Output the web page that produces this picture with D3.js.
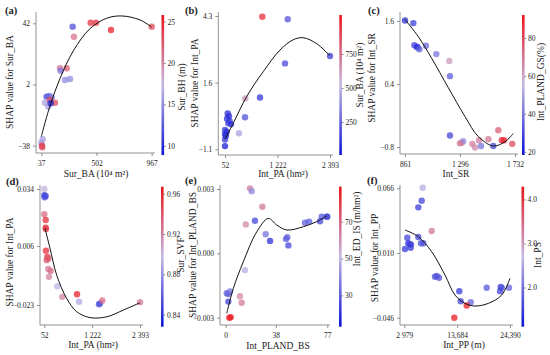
<!DOCTYPE html>
<html>
<head>
<meta charset="utf-8">
<script src="https://cdn.jsdelivr.net/npm/d3@7"></script>
<style>
  body { margin: 0; background: #fff; }
  svg text { font-family: "Liberation Serif", "Times New Roman", serif; fill: #222; }
</style>
</head>
<body>
<svg width="550" height="355"></svg>
<script>
// DATA
// (a) Sur_BA vs SHAP, colour = Sur_BH
const aX = [301, 312, 453, 498, 624, 967, 195, 251, 200, 237, 279, 82, 104, 125, 68, 96, 110, 152, 116, 49, 37, 43, 45];
const aY = [39.8, 33.2, 42.4, 42.4, 37.6, 39.8, 12.6, 12.6, 11, 4.9, 5.6, -5.9, -5.5, -6.4, -9.9, -12.4, -8.1, -9.9, -10.3, -33.8, -36, -38, -39];
const aC = [12, 21, 24, 24, 25, 23, 21, 22, 14, 15, 15, 11, 13, 14, 16, 16, 23, 23, 9.5, 16, 16, 24, 23];
const aTrendX = [37, 110, 195, 307, 447, 588, 714, 869, 967];
const aTrendY = [-32, -12, 6, 24, 38.5, 45.3, 46.8, 44.2, 39.4];

// (b) Int_PA, colour = Sur_BA
const bX = [884, 1450, 1390, 2393, 832, 505, 498, 364, 112, 141, 97, 157, 126, 186, 52, 90, 52, 74, 52, 52];
const bY = [4.27, 4.17, 2.38, 2.68, 1.0, 0.96, 0.2, -0.45, 0.35, 0.24, 0.14, 0.04, -0.04, -0.09, -0.32, -0.39, -0.49, -0.55, -0.70, -0.97];
const bC = [950, 200, 180, 150, 120, 620, 200, 450, 80, 100, 90, 110, 130, 100, 120, 90, 100, 80, 110, 40];
const bTrendX = [52, 237, 536, 906, 1278, 1575, 1798, 2097, 2393];
const bTrendY = [-0.7, -0.04, 1.04, 2.05, 2.92, 3.34, 3.42, 3.18, 2.68];

// (c) Int_SR, colour = Int_PLAND_GS
const cX = [861, 927, 935, 953, 961, 974, 1027, 1109, 1212, 1217, 1217, 1310, 1322, 1296, 1394, 1415, 1447, 1463, 1521, 1560, 1600, 1627, 1645, 1710];
const cY = [1.61, 1.56, 1.14, 1.11, 1.10, 1.06, 1.13, 0.97, 0.84, 0.55, -0.58, -0.72, -0.69, -0.73, -0.74, -0.81, -0.67, -0.78, -0.65, -0.78, -0.48, -0.67, -0.67, -0.74];
const cC = [25, 28, 30, 28, 26, 35, 38, 40, 62, 35, 30, 68, 45, 70, 68, 66, 68, 40, 70, 30, 75, 85, 88, 80];
const cTrendX = [861, 967, 1072, 1204, 1336, 1441, 1560, 1653, 1719];
const cTrendY = [1.63, 1.30, 0.89, 0.33, -0.22, -0.60, -0.78, -0.70, -0.54];

// (d) Int_PA, colour = Sur_SVF
const dX = [52, 52, 86, 60, 52, 86, 86, 92, 92, 125, 150, 110, 150, 208, 167, 370, 492, 852, 901, 1390, 1415, 1471, 2393];
const dY = [0.034, 0.031, 0.0306, 0.0299, 0.0216, 0.0188, 0.015, 0.0143, 0.0037, 0.0007, -0.0001, -0.0009, -0.0053, -0.0063, -0.0091, -0.0138, -0.019, -0.0177, -0.0214, -0.0226, -0.0222, -0.0208, -0.0216];
const dC = [0.90, 0.845, 0.85, 0.85, 0.93, 0.955, 0.96, 0.95, 0.955, 0.95, 0.935, 0.94, 0.925, 0.93, 0.92, 0.895, 0.92, 0.96, 0.89, 0.85, 0.855, 0.93, 0.925];
const dTrendX = [69, 191, 355, 600, 845, 1170, 1578, 1985, 2393];
const dTrendY = [0.0147, 0.0049, -0.0083, -0.0198, -0.0263, -0.0292, -0.0288, -0.0255, -0.0219];

// (e) Int_PLAND_BS, colour = Int_ED_IS
const eX = [18.4, 19.7, 27.8, 22.2, 15.2, 30.3, 33.6, 14.6, 45.7, 46.7, 47.5, 60.1, 63.2, 71.5, 72.8, 76.6, 77, 0.8, 2, 3.3, 2, 10.8, 12.1, 2.7, 3.8];
const eY = [0.00303, 0.0029, 0.00217, 0.00152, 0.00135, 0.00089, 0.00058, -0.00078, 0.00067, 0.00075, 0.00037, 0.00143, 0.00148, 0.0015, 0.00171, 0.00171, 0.00171, -0.00186, -0.0019, -0.00178, -0.00225, -0.002, -0.0023, -0.003, -0.00298];
const eC = [65, 40, 65, 25, 62, 35, 20, 48, 30, 30, 25, 30, 30, 25, 28, 25, 25, 30, 30, 35, 25, 62, 65, 85, 88];
const eTrendX = [0.8, 5.8, 13.3, 23.5, 32.3, 38.7, 46.2, 58.8, 69, 76.6];
const eTrendY = [-0.0028, -0.00163, -0.0004, 0.001, 0.00163, 0.00132, 0.00109, 0.00124, 0.00148, 0.00174];

// (f) Int_PP, colour = Int_PS
const fX = [6706, 6503, 5815, 8529, 3587, 5815, 3789, 4133, 4336, 4275, 3121, 6360, 6827, 9197, 9541, 10008, 14119, 14403, 16429, 15618, 13106, 19669, 22505, 22707, 22370, 24193];
const fY = [0.0665, 0.0553, 0.0495, 0.029, 0.0232, 0.0238, 0.0184, 0.0175, 0.0175, 0.0146, 0.0135, 0.0184, 0.0184, -0.0105, -0.0099, -0.0114, -0.023, -0.0317, -0.0326, -0.0355, -0.046, -0.0201, -0.0193, -0.0201, -0.023, -0.0201];
const fC = [2.6, 1.6, 1.5, 3.3, 1.6, 1.6, 1.4, 1.5, 1.6, 1.5, 1.5, 1.7, 1.7, 1.7, 1.7, 1.7, 1.5, 1.6, 1.9, 4.2, 4.2, 1.8, 1.6, 1.7, 1.6, 1.9];
const fTrendX = [3121, 5815, 8529, 11222, 13248, 15274, 17299, 19999, 22707, 24390];
const fTrendY = [0.0299, 0.0241, 0.0111, -0.0091, -0.0264, -0.0336, -0.0359, -0.0336, -0.0264, -0.012];

// ticks
const aXTicks = [37, 502, 967], aXLabels = ["37", "502", "967"];
const aYTicks = [-38, 2, 42], aYLabels = ["\u221238", "2", "42"];
const aCTicks = [10, 15, 20, 25];
const bXTicks = [52, 1222, 2393], bXLabels = ["52", "1 222", "2 393"];
const bYTicks = [-1.1, 1.6, 4.3], bYLabels = ["\u22121.1", "1.6", "4.3"];
const bCTicks = [250, 500, 750];
const cXTicks = [861, 1296, 1732], cXLabels = ["861", "1 296", "1 732"];
const cYTicks = [-0.8, 0.4, 1.6], cYLabels = ["\u22120.8", "0.4", "1.6"];
const cCTicks = [20, 40, 60, 80];
const dXTicks = [52, 1222, 2393], dXLabels = ["52", "1 222", "2 393"];
const dYTicks = [-0.023, 0.006, 0.034], dYLabels = ["\u22120.023", "0.006", "0.034"];
const dCTicks = [0.84, 0.88, 0.92, 0.96];
const eXTicks = [0, 38, 77], eXLabels = ["0", "38", "77"];
const eYTicks = [-0.003, 0, 0.003], eYLabels = ["\u22120.003", "0.000", "0.003"];
const eCTicks = [30, 50, 70];
const fXTicks = [2979, 13684, 24390], fXLabels = ["2 979", "13,684", "24,390"];
const fYTicks = [-0.046, 0.010, 0.066], fYLabels = ["\u22120.046", "0.010", "0.066"];
const fCTicks = [2, 3, 4];

const panels = [
  { tag: "(a)", x: aX, y: aY, c: aC, tx: aTrendX, ty: aTrendY,
    xd: [37, 967], yd: [-38, 42], cd: [8.9, 25.8],
    xt: aXTicks, xl: aXLabels, yt: aYTicks, yl: aYLabels, ct: aCTicks,
    xTitle: "Sur_BA (10\u2074 m\u00b2)", yTitle: "SHAP value for Sur_BA", cTitle: "Sur_BH (m)",
    box: { l: 36, r: 155, t: 12, b: 153 }, xr: [41.3, 151.7], yr: [145.7, 23.3],
    tagPos: [5, 14], xTitlePos: [96, 177], yTitlePos: [10, 82], cbX: 161.5, cbY: [15, 155], cTitlePos: [182, 87] },
  { tag: "(b)", x: bX, y: bY, c: bC, tx: bTrendX, ty: bTrendY,
    xd: [52, 2393], yd: [-1.1, 4.3], cd: [7, 1037],
    xt: bXTicks, xl: bXLabels, yt: bYTicks, yl: bYLabels, ct: bCTicks,
    xTitle: "Int_PA (hm\u00b2)", yTitle: "SHAP value for Int_PA", cTitle: "Sur_BA (10\u2074 m\u00b2)",
    box: { l: 218.3, r: 333, t: 12, b: 155 }, xr: [225, 330], yr: [149.3, 16],
    tagPos: [185, 14], xTitlePos: [283, 177], yTitlePos: [195, 83], cbX: 339.3, cbY: [15, 155], cTitlePos: [360, 75] },
  { tag: "(c)", x: cX, y: cY, c: cC, tx: cTrendX, ty: cTrendY,
    xd: [861, 1732], yd: [-0.8, 1.6], cd: [18.3, 92.1],
    xt: cXTicks, xl: cXLabels, yt: cYTicks, yl: cYLabels, ct: cCTicks,
    xTitle: "Int_SR", yTitle: "SHAP value for Int_SR", cTitle: "Int_PLAND_GS(%)",
    box: { l: 400, r: 518, t: 12, b: 154 }, xr: [405, 515], yr: [147, 21],
    tagPos: [368, 14], xTitlePos: [456, 177], yTitlePos: [372, 78], cbX: 522, cbY: [15, 155], cTitlePos: [541, 82] },
  { tag: "(d)", x: dX, y: dY, c: dC, tx: dTrendX, ty: dTrendY,
    xd: [52, 2393], yd: [-0.023, 0.034], cd: [0.828, 0.967],
    xt: dXTicks, xl: dXLabels, yt: dYTicks, yl: dYLabels, ct: dCTicks,
    xTitle: "Int_PA (hm\u00b2)", yTitle: "SHAP value for Int_PA", cTitle: "Sur_SVF",
    box: { l: 40, r: 143, t: 185, b: 325 }, xr: [44.3, 140], yr: [305, 189],
    tagPos: [6, 185], xTitlePos: [93, 348], yTitlePos: [10, 262], cbX: 161, cbY: [186.7, 326.7], cTitlePos: [181, 255] },
  { tag: "(e)", x: eX, y: eY, c: eC, tx: eTrendX, ty: eTrendY,
    xd: [0, 77], yd: [-0.003, 0.003], cd: [13, 89],
    xt: eXTicks, xl: eXLabels, yt: eYTicks, yl: eYLabels, ct: eCTicks,
    xTitle: "Int_PLAND_BS", yTitle: "SHAP value for Int_PLAND_BS", cTitle: "Int_ED_IS (m/hm\u00b2)",
    box: { l: 220, r: 330, t: 185, b: 325 }, xr: [225.7, 327.3], yr: [317.7, 189],
    tagPos: [185, 184], xTitlePos: [278, 349], yTitlePos: [193, 255], cbX: 339, cbY: [186.7, 326.7], cTitlePos: [357, 229] },
  { tag: "(f)", x: fX, y: fY, c: fC, tx: fTrendX, ty: fTrendY,
    xd: [2979, 24390], yd: [-0.046, 0.066], cd: [1.11, 4.29],
    xt: fXTicks, xl: fXLabels, yt: fYTicks, yl: fYLabels, ct: fCTicks,
    xTitle: "Int_PP (m)", yTitle: "SHAP value for Int_PP", cTitle: "Int_PS",
    box: { l: 400, r: 513, t: 185, b: 325 }, xr: [404.3, 510], yr: [317.7, 188.3],
    tagPos: [367, 184], xTitlePos: [464, 348], yTitlePos: [375, 258], cbX: 521.5, cbY: [186.7, 326.7], cTitlePos: [538, 255] }
];

const svg = d3.select("svg");
const colors = ["#0c12d6", "#c3b9e3", "#ec1219"];
const defs = svg.append("defs");

// vertical gradient shared by all colour bars (bottom = low)
const grad = defs.append("linearGradient").attr("id", "cbar")
  .attr("x1", 0).attr("y1", 1).attr("x2", 0).attr("y2", 0);
d3.range(0, 1.0001, 0.1).forEach(t => {
  const s = d3.scaleLinear().domain([0, 0.5, 1]).range(colors);
  grad.append("stop").attr("offset", t).attr("stop-color", s(t));
});

panels.forEach(p => {
  const g = svg.append("g");
  const x = d3.scaleLinear().domain(p.xd).range(p.xr);
  const y = d3.scaleLinear().domain(p.yd).range(p.yr);
  const mid = (p.cd[0] + p.cd[1]) / 2;
  const color = d3.scaleLinear().domain([p.cd[0], mid, p.cd[1]]).range(colors).clamp(true);

  // axes lines
  g.append("line").attr("x1", p.box.l).attr("x2", p.box.l).attr("y1", p.box.t).attr("y2", p.box.b)
    .attr("stroke", "#777").attr("stroke-width", 0.8);
  g.append("line").attr("x1", p.box.l).attr("x2", p.box.r).attr("y1", p.box.b).attr("y2", p.box.b)
    .attr("stroke", "#777").attr("stroke-width", 0.8);

  const xAxis = g.append("g").attr("transform", `translate(0,${p.box.b})`)
    .call(d3.axisBottom(x).tickValues(p.xt).tickFormat((d, i) => p.xl[i]).tickSize(3).tickSizeOuter(0));
  const yAxis = g.append("g").attr("transform", `translate(${p.box.l},0)`)
    .call(d3.axisLeft(y).tickValues(p.yt).tickFormat((d, i) => p.yl[i]).tickSize(3).tickSizeOuter(0));
  [xAxis, yAxis].forEach(a => {
    a.select(".domain").remove();
    a.selectAll(".tick line").attr("stroke", "#777").attr("stroke-width", 0.8);
    a.selectAll(".tick text").attr("font-size", 7.5).attr("fill", "#222")
      .attr("font-family", "Liberation Serif, serif");
  });
  xAxis.selectAll(".tick text").attr("dy", "0.9em");

  // points
  const pts = p.x.map((v, i) => ({ x: v, y: p.y[i], c: p.c[i] }));
  g.selectAll("circle").data(pts).enter().append("circle")
    .attr("cx", d => x(d.x)).attr("cy", d => y(d.y)).attr("r", 3.2)
    .attr("fill", d => color(d.c)).attr("fill-opacity", 0.75);

  // fitted curve
  const line = d3.line().x(d => x(d[0])).y(d => y(d[1])).curve(d3.curveCatmullRom.alpha(0.5));
  g.append("path").datum(p.tx.map((v, i) => [v, p.ty[i]]))
    .attr("d", line).attr("fill", "none").attr("stroke", "#111").attr("stroke-width", 1);

  // titles
  g.append("text").attr("x", p.tagPos[0]).attr("y", p.tagPos[1])
    .attr("font-size", 10.5).attr("font-weight", "bold").text(p.tag);
  g.append("text").attr("x", p.xTitlePos[0]).attr("y", p.xTitlePos[1])
    .attr("text-anchor", "middle").attr("font-size", 9.5).text(p.xTitle);
  g.append("text").attr("transform", `translate(${p.yTitlePos[0]},${p.yTitlePos[1]}) rotate(-90)`)
    .attr("text-anchor", "middle").attr("dominant-baseline", "central").attr("font-size", 9.5).text(p.yTitle);

  // colour bar
  const cb = d3.scaleLinear().domain(p.cd).range([p.cbY[1], p.cbY[0]]);
  g.append("rect").attr("x", p.cbX).attr("y", p.cbY[0]).attr("width", 2.6)
    .attr("height", p.cbY[1] - p.cbY[0]).attr("fill", "url(#cbar)");
  const cAxis = g.append("g").attr("transform", `translate(${p.cbX + 2.6},0)`)
    .call(d3.axisRight(cb).tickValues(p.ct).tickSize(1.5).tickSizeOuter(0));
  cAxis.select(".domain").remove();
  cAxis.selectAll(".tick line").attr("stroke", "#777");
  cAxis.selectAll(".tick text").attr("font-size", 7.5).attr("fill", "#222").attr("x", 3.5)
    .attr("font-family", "Liberation Serif, serif");
  g.append("text").attr("transform", `translate(${p.cTitlePos[0]},${p.cTitlePos[1]}) rotate(-90)`)
    .attr("text-anchor", "middle").attr("dominant-baseline", "central").attr("font-size", 9.5).text(p.cTitle);
});
</script>
</body>
</html>
